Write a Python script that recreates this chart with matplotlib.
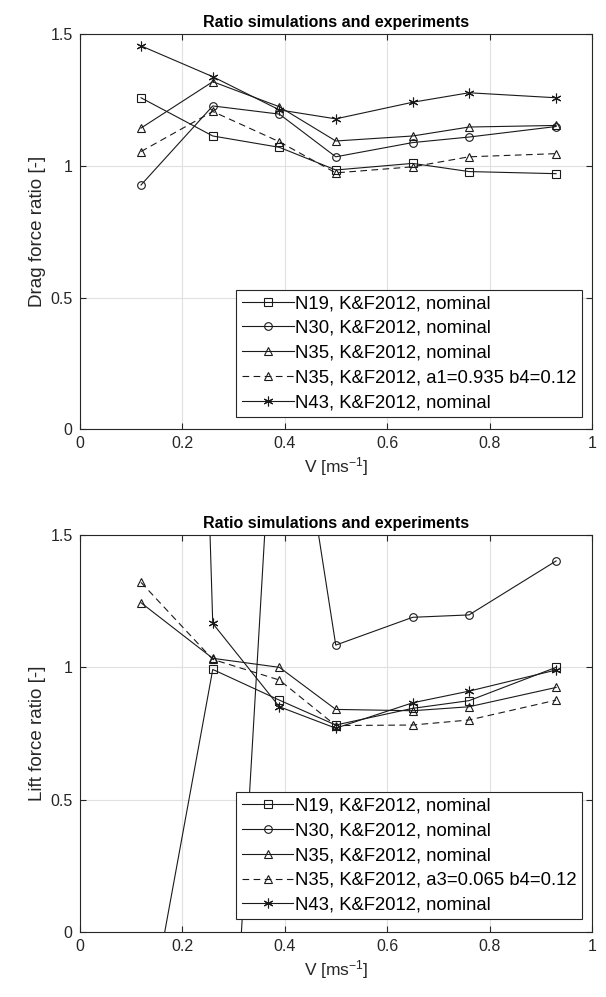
import numpy as np
import matplotlib
matplotlib.use('Agg')
import matplotlib.pyplot as plt

plt.rcParams['font.family'] = ['Liberation Sans', 'DejaVu Sans']
plt.rcParams['mathtext.default'] = 'regular'

# velocities [m/s]
v = [0.12, 0.26, 0.39, 0.50, 0.65, 0.76, 0.93]

# drag force ratio
drag_n19 = [1.258, 1.113, 1.070, 0.984, 1.009, 0.978, 0.970]
drag_n30 = [0.927, 1.227, 1.196, 1.034, 1.088, 1.109, 1.149]
drag_n35 = [1.143, 1.319, 1.224, 1.094, 1.113, 1.147, 1.153]
drag_n35b = [1.054, 1.206, 1.091, 0.973, 0.996, 1.034, 1.046]
drag_n43 = [1.455, 1.338, 1.212, 1.178, 1.241, 1.277, 1.258]

# lift force ratio (some points fall outside the plotted range)
lift_n19 = [-0.49, 0.992, 0.876, 0.782, 0.845, 0.874, 1.000]
lift_n30 = [-2.5, -1.85, 2.45, 1.084, 1.189, 1.198, 1.402]
lift_n35 = [1.244, 1.034, 1.000, 0.841, 0.836, 0.851, 0.924]
lift_n35b = [1.321, 1.030, 0.952, 0.780, 0.782, 0.801, 0.876]
lift_n43 = [10.0, 1.166, 0.851, 0.770, 0.866, 0.910, 0.990]

drag_labels = ['N19, K&F2012, nominal', 'N30, K&F2012, nominal',
               'N35, K&F2012, nominal', 'N35, K&F2012, a1=0.935 b4=0.12',
               'N43, K&F2012, nominal']
lift_labels = ['N19, K&F2012, nominal', 'N30, K&F2012, nominal',
               'N35, K&F2012, nominal', 'N35, K&F2012, a3=0.065 b4=0.12',
               'N43, K&F2012, nominal']

# asterisk like MATLAB '*'
star = (6, 2, 0)
styles = [('s', '-'), ('o', '-'), ('^', '-'), ('^', (0, (6, 4))), (star, '-')]


def draw(ax, series, labels, ylabel):
    for (y, lab, (mk, ls)) in zip(series, labels, styles):
        ms = 7 if mk == star else 5.5
        ax.plot(v, y, color='#1a1a1a', linestyle=ls, linewidth=0.8,
                marker=mk, markersize=ms, markerfacecolor='none',
                markeredgecolor='#1a1a1a', markeredgewidth=0.8, label=lab)
    ax.set_xlim(0, 1)
    ax.set_ylim(0, 1.5)
    ax.set_xticks([0, 0.2, 0.4, 0.6, 0.8, 1])
    ax.set_xticklabels(['0', '0.2', '0.4', '0.6', '0.8', '1'])
    ax.set_yticks([0, 0.5, 1, 1.5])
    ax.set_yticklabels(['0', '0.5', '1', '1.5'])
    ax.grid(True, color='#e0e0e0', linewidth=0.8)
    ax.set_axisbelow(True)
    ax.tick_params(direction='in', top=True, right=True, labelsize=11.5,
                   length=4, width=0.8, colors='#262626', pad=5)
    for s in ax.spines.values():
        s.set_linewidth(0.8)
        s.set_color('#262626')
    ax.set_title('Ratio simulations and experiments', fontsize=11.5,
                 fontweight='bold', pad=5)
    ax.set_xlabel('V [ms$^{-1}$]', fontsize=12.5, color='#262626', labelpad=3)
    ax.set_ylabel(ylabel, fontsize=13.5, color='#262626', labelpad=3)
    leg = ax.legend(loc='lower right', bbox_to_anchor=(0.981, 0.032),
                    fontsize=13.3, frameon=True, fancybox=False,
                    edgecolor='#262626', framealpha=1, borderpad=0.3,
                    labelspacing=0.42, handlelength=2.8, handletextpad=0.1,
                    borderaxespad=0)
    leg.get_frame().set_linewidth(0.8)


fig = plt.figure(figsize=(6.06, 9.97), dpi=100)
ax1 = fig.add_axes([0.1312, 0.5694, 0.8457, 0.3965])
ax2 = fig.add_axes([0.1312, 0.0652, 0.8457, 0.3982])

draw(ax1, [drag_n19, drag_n30, drag_n35, drag_n35b, drag_n43], drag_labels,
     'Drag force ratio [-]')
draw(ax2, [lift_n19, lift_n30, lift_n35, lift_n35b, lift_n43], lift_labels,
     'Lift force ratio [-]')

fig.savefig('out.png', dpi=100, facecolor='white')
